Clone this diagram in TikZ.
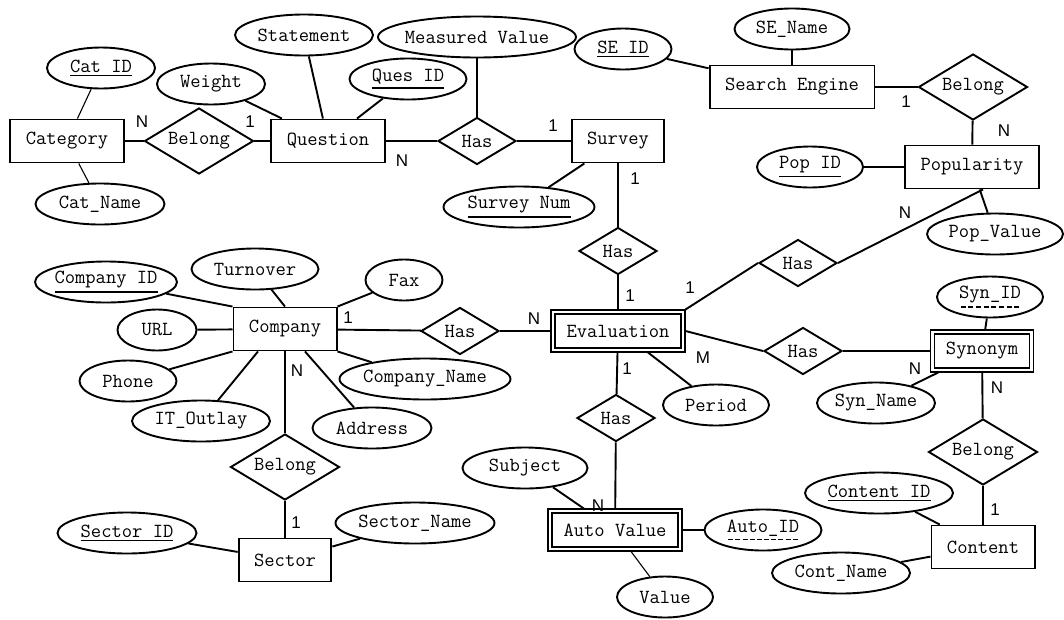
\documentclass[tikz,border=0pt]{standalone}
\usepackage{fontspec}
\usepackage{tikz}
\usetikzlibrary{shapes.geometric}
\setsansfont{Liberation Sans}
\newcommand{\solidul}[1]{\setbox0\hbox{#1}\vtop{\copy0\kern2.5pt\hrule height 1.6pt width \wd0}}
\newcommand{\dashul}[1]{\setbox0\hbox{#1}\vtop{\copy0\kern2.5pt\nointerlineskip
    \hbox to \wd0{\xleaders\hbox to 7pt{\hss\vrule height 1.8pt depth 0pt width 5pt\hss}\hfill}}}

\tikzset{
    entity/.style={draw, rectangle, line width=1.9pt, inner xsep=15.5pt, minimum height=43pt,
        font=\ttfamily\fontsize{20}{22}\selectfont},
    weak/.style={entity, double, double distance=2.4pt, line width=1.5pt, inner xsep=13.5pt,
        minimum height=38pt, outer sep=2.5pt},
    attr/.style={draw, ellipse, line width=1.9pt, inner xsep=-25pt, inner ysep=0pt, minimum height=41pt,
        font=\ttfamily\fontsize{20}{22}\selectfont},
    rel/.style={draw, diamond, shape aspect=1.65, line width=1.9pt, inner sep=0pt,
        minimum width=78pt, minimum height=47pt, font=\ttfamily\fontsize{20}{22}\selectfont},
    bigrel/.style={rel, minimum width=109pt, minimum height=66pt},
    card/.style={inner sep=0pt, font=\sffamily\fontsize{17}{20}\selectfont},
    link/.style={line width=1.9pt},
    thinlink/.style={line width=1.1pt}
}

\begin{document}
\begin{tikzpicture}[x=1pt, y=-1pt]
    \useasboundingbox[fill=white] (0,0) rectangle (1064,619);

    % entities
    \node[entity] (category) at (67,141) {Category};
    \node[entity] (question) at (328,141) {Question};
    \node[entity] (survey) at (618,141) {Survey};
    \node[entity] (searchengine) at (792,87) {Search Engine};
    \node[entity] (popularity) at (972,167) {Popularity};
    \node[entity] (company) at (285,329) {Company};
    \node[weak] (evaluation) at (618,331) {Evaluation};
    \node[weak] (synonym) at (982,351) {Synonym};
    \node[entity] (sector) at (285,560) {Sector};
    \node[weak] (autovalue) at (615,530) {Auto Value};
    \node[entity] (content) at (983,547) {Content};

    % relationships
    \node[bigrel] (belongcat) at (199,141) {Belong};
    \node[rel] (hasques) at (477,141) {Has};
    \node[bigrel] (belongse) at (973,87) {Belong};
    \node[rel] (hassurvey) at (618,251) {Has};
    \node[rel] (haspop) at (798,263) {Has};
    \node[rel] (hascomp) at (460,331) {Has};
    \node[rel] (hassyn) at (803,351) {Has};
    \node[rel] (hasauto) at (616,418) {Has};
    \node[bigrel] (belongsector) at (285,467) {Belong};
    \node[bigrel] (belongsyn) at (983,452) {Belong};

    % attributes
    \node[attr, minimum width=108pt] (catid) at (101,68) {\solidul{Cat ID}};
    \node[attr, minimum width=129pt] (catname) at (100,204) {Cat\_Name};
    \node[attr, minimum width=108pt] (weight) at (211,84) {Weight};
    \node[attr, minimum width=138pt] (statement) at (304,35) {Statement};
    \node[attr, minimum width=198pt] (measured) at (477,37) {Measured Value};
    \node[attr, minimum width=117pt] (quesid) at (408,79) {\solidul{Ques ID}};
    \node[attr, minimum width=97pt] (seid) at (623,49) {\solidul{SE ID}};
    \node[attr, minimum width=115pt] (sename) at (792,29) {SE\_Name};
    \node[attr, minimum width=106pt] (popid) at (810,167) {\solidul{Pop ID}};
    \node[attr, minimum width=136pt] (popvalue) at (995,234) {Pop\_Value};
    \node[attr, minimum width=151pt] (surveynum) at (519,207) {\solidul{Survey Num}};
    \node[attr, minimum width=142pt] (companyid) at (106,282) {\solidul{Company ID}};
    \node[attr, minimum width=127pt] (turnover) at (255,269) {Turnover};
    \node[attr, minimum width=77pt] (fax) at (404,280) {Fax};
    \node[attr, minimum width=79pt] (url) at (157,330) {URL};
    \node[attr, minimum width=97pt] (phone) at (128,381) {Phone};
    \node[attr, minimum width=171pt] (companyname) at (425,379) {Company\_Name};
    \node[attr, minimum width=138pt] (itoutlay) at (201,421) {IT\_Outlay};
    \node[attr, minimum width=119pt] (address) at (372,428) {Address};
    \node[attr, minimum width=125pt] (subject) at (525,468) {Subject};
    \node[attr, minimum width=139pt] (sectorid) at (127,533) {\solidul{Sector ID}};
    \node[attr, minimum width=159pt] (sectorname) at (415,523) {Sector\_Name};
    \node[attr, minimum width=106pt] (period) at (716,405) {Period};
    \node[attr, minimum width=106pt] (synid) at (990,297) {\dashul{Syn\_ID}};
    \node[attr, minimum width=118pt] (synname) at (876,403) {Syn\_Name};
    \node[attr, minimum width=117pt] (autoid) at (763,530) {\dashul{Auto\_ID}};
    \node[attr, minimum width=96pt] (value) at (665,597) {Value};
    \node[attr, minimum width=148pt] (contentid) at (879,493) {\solidul{Content ID}};
    \node[attr, minimum width=138pt] (contname) at (841,573) {Cont\_Name};

    % connectors
    \foreach \a/\b in {category/belongcat, belongcat/question, question/hasques, hasques/survey,
        measured/hasques, weight/question, statement/question, quesid/question, surveynum/survey,
        survey/hassurvey, hassurvey/evaluation, seid/searchengine, sename/searchengine,
        searchengine/belongse, belongse/popularity, popid/popularity, popularity/popvalue,
        company/hascomp, hascomp/evaluation, url/company, companyid/company.north west,
        turnover/company.north, fax/company.north east, phone/company.south west,
        companyname/company.south east, company/belongsector, belongsector/sector,
        sectorid/sector, sectorname/sector, evaluation/hasauto, hasauto/autovalue,
        subject/autovalue, autovalue/autoid, synid/synonym, synname/synonym, hassyn/synonym,
        synonym/belongsyn, belongsyn/content, contentid/content, contname/content} {
        \draw[link] (\a) -- (\b);
    }
    \foreach \a/\b in {catid/category, catname/category, autovalue/value} {
        \draw[thinlink] (\a) -- (\b);
    }
    \draw[link] (haspop.east) -- ([xshift=11pt]popularity.south);
    \draw[link] (haspop.west) -- (evaluation.north east);
    \draw[link] (evaluation.east) -- (hassyn.west);
    \draw[link] ([xshift=30pt]evaluation.south) -- (period);
    \draw[link] ([xshift=-27pt]company.south) -- (itoutlay);
    \draw[link] ([xshift=20pt]company.south) -- (address);

    % cardinalities
    \foreach \x/\y/\t [count=\i] in {142/122/N, 250/122/1, 402/161/N, 553/126/1, 635/179/1,
        630/296/1, 534/319/N, 690/288/1, 703/358/M, 627/369/1, 348/318/1, 297/371/N,
        296/523/1, 905/213/N, 906/102/1, 1004/131/N, 915/369/N, 997/388/N, 995/510/1,
        598/506/N} {
        \node[card] (card\i) at (\x,\y) {\t};
    }
\end{tikzpicture}
\end{document}
